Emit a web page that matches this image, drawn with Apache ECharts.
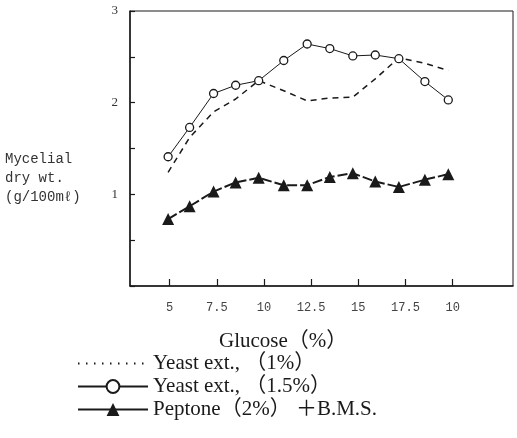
<!DOCTYPE html>
<html>
<head>
<meta charset="utf-8">
<script src="https://cdn.jsdelivr.net/npm/echarts@6.0.0/dist/echarts.min.js"></script>
<style>
  html, body { margin: 0; padding: 0; background: #fff; }
  #chart { width: 517px; height: 438px; }
</style>
</head>
<body>
<div id="chart"></div>
<script>
const glucose = [4.92, 6.06, 7.33, 8.5, 9.72, 11.05, 12.29, 13.49, 14.71, 15.9, 17.15, 18.53, 19.77];
const yeast1 = [1.24, 1.62, 1.9, 2.04, 2.24, 2.13, 2.02, 2.05, 2.06, 2.26, 2.49, 2.43, 2.35];
const yeast15 = [1.41, 1.73, 2.1, 2.19, 2.24, 2.46, 2.64, 2.59, 2.51, 2.52, 2.48, 2.23, 2.03];
const peptone = [0.73, 0.87, 1.03, 1.13, 1.18, 1.1, 1.1, 1.19, 1.23, 1.14, 1.08, 1.16, 1.22];

const xTickValues = [5, 7.5, 10, 12.5, 15, 17.5, 20];
const xTickLabels = ["5", "7.5", "10", "12.5", "15", "17.5", "10"];
const yLabelValues = [1, 2, 3];

const seriesNames = ["Yeast ext., （1%）", "Yeast ext., （1.5%）", "Peptone（2%） ＋B.M.S."];

function pairs(ys) {
  return glucose.map((g, i) => [g, ys[i]]);
}

const ink = "#1a1a1a";
const serif = 'Liberation Serif, "Noto Sans CJK JP"';
const chart = echarts.init(document.getElementById("chart"));
chart.setOption({
  animation: false,
  backgroundColor: "#fff",
  grid: {
    left: 130,
    top: 11,
    width: 383,
    height: 275,
    show: true,
    borderColor: ink,
    borderWidth: 1,
  },
  xAxis: {
    type: "value",
    min: 2.9,
    max: 23.2,
    splitLine: { show: false },
    axisLine: { lineStyle: { color: ink, width: 1.5 } },
    axisTick: {
      inside: true,
      length: 7,
      customValues: xTickValues,
      lineStyle: { color: ink, width: 1.2 },
    },
    axisLabel: {
      customValues: xTickValues,
      margin: 16,
      color: "#444",
      fontFamily: "Liberation Mono",
      fontSize: 12,
      formatter: (v) => xTickLabels[xTickValues.indexOf(v)],
    },
  },
  yAxis: {
    type: "value",
    min: 0,
    max: 3,
    interval: 0.5,
    splitLine: { show: false },
    axisLine: { lineStyle: { color: ink, width: 1.5 } },
    axisTick: {
      inside: true,
      length: 5,
      lineStyle: { color: ink, width: 1.2 },
    },
    axisLabel: {
      customValues: yLabelValues,
      margin: 12,
      color: "#333",
      fontFamily: "Liberation Serif",
      fontSize: 13,
    },
  },
  legend: {
    orient: "vertical",
    left: 77,
    top: 352,
    padding: 0,
    itemWidth: 70,
    itemHeight: 16,
    itemGap: 0,
    textStyle: {
      color: ink,
      fontFamily: serif,
      fontSize: 21,
      lineHeight: 23,
    },
    data: [
      {
        name: seriesNames[0],
        itemStyle: { opacity: 0 },
        lineStyle: { type: [1.5, 6.5], width: 2, color: ink },
      },
      { name: seriesNames[1] },
      { name: seriesNames[2], lineStyle: { type: "solid" } },
    ],
  },
  graphic: [
    {
      type: "text",
      left: 5,
      top: 150,
      style: {
        text: "Mycelial\ndry wt.\n(g/100mℓ)",
        fontFamily: "Liberation Mono",
        fontSize: 14,
        lineHeight: 19,
        fill: "#333",
      },
    },
    {
      type: "text",
      left: 219,
      top: 331,
      style: {
        text: "Glucose（%）",
        fontFamily: serif,
        fontSize: 21,
        fill: ink,
      },
    },
  ],
  series: [
    {
      name: seriesNames[0],
      type: "line",
      data: pairs(yeast1),
      symbol: "none",
      lineStyle: { color: ink, width: 1.5, type: [6, 5] },
      itemStyle: { color: ink },
    },
    {
      name: seriesNames[1],
      type: "line",
      data: pairs(yeast15),
      symbol: "circle",
      symbolSize: 8,
      lineStyle: { color: ink, width: 1 },
      itemStyle: { color: "#fff", borderColor: ink, borderWidth: 1.3 },
    },
    {
      name: seriesNames[2],
      type: "line",
      data: pairs(peptone),
      symbol: "triangle",
      symbolSize: 12,
      lineStyle: { color: ink, width: 2, type: [10, 3] },
      itemStyle: { color: ink },
    },
  ],
});
</script>
</body>
</html>
